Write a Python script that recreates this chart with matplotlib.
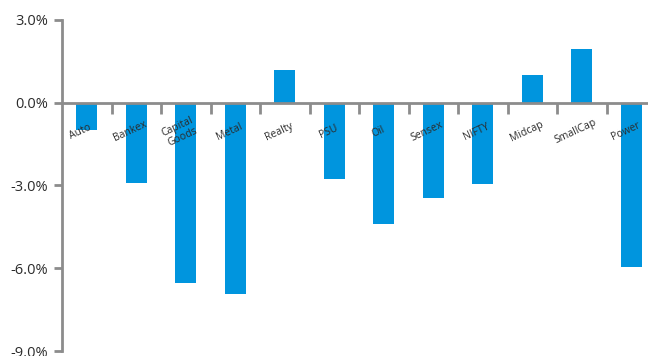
import matplotlib
matplotlib.use('Agg')
import matplotlib.pyplot as plt
from matplotlib.ticker import FuncFormatter, MultipleLocator

# sector returns (%)
sectors = ['Auto', 'Bankex', 'Capital\nGoods', 'Metal', 'Realty', 'PSU', 'Oil',
           'Sensex', 'NIFTY', 'Midcap', 'SmallCap', 'Power']
returns = [-1.0, -2.9, -6.55, -6.95, 1.2, -2.75, -4.4, -3.45, -2.95, 1.0, 1.95, -5.95]

bar_color = '#0095DE'
axis_color = '#8C8C8C'
text_color = '#2B2B2B'

plt.rcParams['font.family'] = ['Open Sans', 'DejaVu Sans']

fig = plt.figure(figsize=(6.48, 3.56), dpi=100)
ax = fig.add_axes([0.0957, 0.014, 0.9167, 0.93])

x = list(range(len(sectors)))
ax.bar(x, returns, width=0.43, color=bar_color, zorder=2)

ax.set_xlim(-0.5, 11.5)
ax.set_ylim(-9, 3)
ax.yaxis.set_major_locator(MultipleLocator(3))
ax.yaxis.set_major_formatter(FuncFormatter(lambda v, p: f'{v:.1f}%'))

# spines: left axis and the zero line
for s in ['top', 'right']:
    ax.spines[s].set_visible(False)
ax.spines['left'].set_color(axis_color)
ax.spines['left'].set_linewidth(2)
ax.spines['bottom'].set_position(('data', 0))
ax.spines['bottom'].set_color(axis_color)
ax.spines['bottom'].set_linewidth(2)
ax.spines['bottom'].set_zorder(3)

ax.tick_params(axis='y', colors=axis_color, labelcolor=text_color,
               labelsize=10.5, length=6, width=2, pad=4)
ax.set_xticks([i + 0.5 for i in x[:-1]])
ax.tick_params(axis='x', colors=axis_color, length=8, width=2,
               labelbottom=False, direction='out')

for i, name in enumerate(sectors):
    ax.text(i - 0.12, -1.05, name, rotation=25, ha='center', va='center',
            fontsize=7.5, color=text_color, linespacing=1.0, zorder=4)

fig.savefig('out.png', dpi=100)
